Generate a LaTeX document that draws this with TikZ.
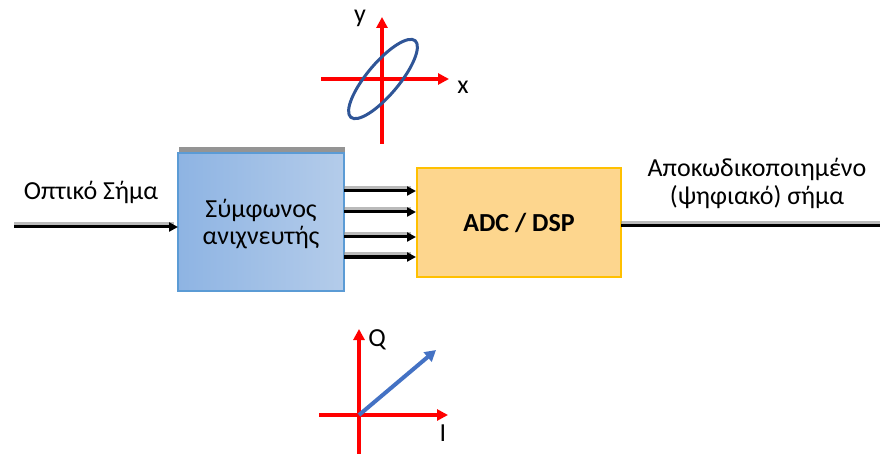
\documentclass[tikz,border=0pt]{standalone}
\usepackage{fontspec}
\setmainfont{Carlito}
\usetikzlibrary{arrows.meta,shadings,calc}
\definecolor{axred}{HTML}{FF0000}
\definecolor{ellblue}{HTML}{2F5597}
\definecolor{vecblue}{HTML}{4472C4}
\definecolor{boxblueL}{HTML}{8EB4E3}
\definecolor{boxblueR}{HTML}{B4CCEA}
\definecolor{boxblueD}{HTML}{5B9BD5}
\definecolor{adcfill}{HTML}{FDD68E}
\definecolor{adcdraw}{HTML}{FFC000}
\tikzset{
  axis/.style={draw=axred,line width=3.5pt,-{Triangle[length=11pt,width=11pt]}},
  sig/.style={draw=black,line width=3pt,-{Triangle[length=9pt,width=9pt]}},
  sigshadow/.style={draw=black!45,line width=3pt,opacity=0.6},
  lbl/.style={font=\fontsize{26}{30}\selectfont,align=center,inner sep=0pt},
}
\begin{document}
\begin{tikzpicture}[x=1pt,y=-1pt]
\useasboundingbox (0,0) rectangle (880,454);
% coordinates
\coordinate (inS) at (14,227);
\coordinate (outE) at (880,226);
% blue box shadow + box
\fill[black!60,opacity=0.7] (179,147) rectangle (345,160);
\shade[left color=boxblueL,right color=boxblueR,draw=boxblueD,line width=1.5pt]
  (178,153) rectangle (344,291);
\node[lbl,anchor=base] (det) at (261,218) {Σύμφωνος};
\node[lbl,anchor=base] (det2) at (261,244) {ανιχνευτής};
\coordinate (detW) at (178,227);
% ADC box
\node[draw=adcdraw,fill=adcfill,line width=2pt,minimum width=204pt,minimum height=109pt,inner sep=0pt,
  font=\bfseries\fontsize{26}{30}\selectfont] (adc) at (519,222.5) {ADC / DSP};
% input line
\draw[sigshadow] ($(inS)+(0,-3)$) -- ($(detW)+(-4,-3)$);
\draw[sig] (inS) -- (detW);
\node[lbl,anchor=base] (inlbl) at (91,200) {Οπτικό Σήμα};
% output line
\coordinate (adcE) at (621,226);
\draw[sigshadow] ($(adcE)+(0,-3)$) -- ($(outE)+(0,-3)$);
\draw[draw=black,line width=3pt] (adcE) -- (outE);
\node[lbl,anchor=base] (outlbl) at (757,177) {Αποκωδικοποιημένο};
\node[lbl,anchor=base] (outlbl2) at (757,205) {(ψηφιακό) σήμα};
% four parallel arrows
\foreach \yy/\nm in {191/a,212/b,237/c,257/d}{
  \coordinate (s\nm) at (344,\yy);
  \coordinate (e\nm) at (416,\yy);
  \draw[sigshadow] ($(s\nm)+(0,-3)$) -- ($(e\nm)+(-5,-3)$);
  \draw[sig] (s\nm) -- (e\nm);
}
% top axes with ellipse
\coordinate (xa0) at (321,79);
\coordinate (xa1) at (449,79);
\coordinate (ya0) at (382,144);
\coordinate (ya1) at (382,17);
\draw[axis] (xa0) -- (xa1);
\draw[axis] (ya0) -- (ya1);
\draw[ellblue,line width=3pt,rotate around={50:(383,79)}] (383,79) ellipse [x radius=50, y radius=16];
\node[lbl] (ylbl) at (360,18) {y};
\node[lbl] (xlbl) at (463,87) {x};
% bottom axes with vector
\coordinate (O) at (359,415);
\coordinate (ia0) at (319,415);
\coordinate (ia1) at (448,415);
\coordinate (qa0) at (359,454);
\coordinate (qa1) at (359,329);
\coordinate (vtip) at (436,350);
\draw[axis] (ia0) -- (ia1);
\draw[axis] (qa0) -- (qa1);
\draw[draw=vecblue,line width=4pt,-{Triangle[length=11pt,width=12pt]}] (O) -- (vtip);
\node[lbl] (qlbl) at (377,340) {Q};
\node[lbl] (ilbl) at (443,433) {I};
\end{tikzpicture}
\end{document}
